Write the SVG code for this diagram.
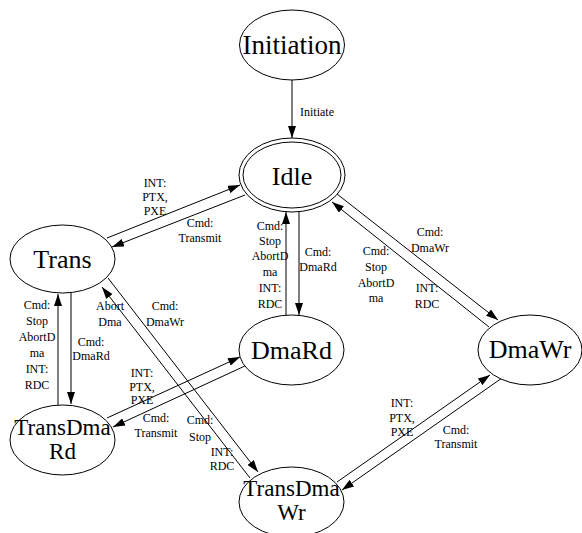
<svg xmlns="http://www.w3.org/2000/svg" width="582" height="533" viewBox="0 0 582 533">
<style>
.node ellipse{fill:#fff;stroke:#000;stroke-width:1}
.nl{font-family:"Liberation Serif",serif;font-size:26px;text-anchor:middle;fill:#000}
.sm{font-size:23px}
.el{font-family:"Liberation Serif",serif;font-size:12px;text-anchor:middle;fill:#000}
.edge{stroke:#000;stroke-width:1;fill:none;marker-end:url(#ah)}
</style>
<defs>
<marker id="ah" viewBox="0 0 12 8" refX="12" refY="4" markerWidth="12" markerHeight="8" markerUnits="userSpaceOnUse" orient="auto">
<path d="M0,0 L12,4 L0,8 z" fill="#000"/>
</marker>
</defs>
<rect width="582" height="533" fill="#fff"/>
<g id="connectors">
<path class="edge" d="M292,80 L292,138"/>
<path class="edge" d="M107,238 L240,185"/>
<path class="edge" d="M245,195 L112,247"/>
<path class="edge" d="M286,315 L286,212"/>
<path class="edge" d="M299,212 L299,315"/>
<path class="edge" d="M337,194 L498,320"/>
<path class="edge" d="M489,327 L332,202"/>
<path class="edge" d="M58,405 L58,294"/>
<path class="edge" d="M71,293 L71,404"/>
<path class="edge" d="M108,278 L258,472"/>
<path class="edge" d="M250,478 L102,287"/>
<path class="edge" d="M107,418 L240,357"/>
<path class="edge" d="M247,365 L113,427"/>
<path class="edge" d="M337,482 L490,375"/>
<path class="edge" d="M502,378 L342,490"/>
<text class="el" x="317" y="116">Initiate</text>
<text class="el"><tspan x="155" y="187">INT:</tspan><tspan x="155" y="201">PTX,</tspan><tspan x="155" y="215">PXE</tspan></text>
<text class="el"><tspan x="200" y="227">Cmd:</tspan><tspan x="200" y="242">Transmit</tspan></text>
<text class="el"><tspan x="270" y="230">Cmd:</tspan><tspan x="270" y="245">Stop</tspan><tspan x="270" y="260">AbortD</tspan><tspan x="270" y="276">ma</tspan><tspan x="270" y="292">INT:</tspan><tspan x="270" y="308">RDC</tspan></text>
<text class="el"><tspan x="318" y="256">Cmd:</tspan><tspan x="318" y="271">DmaRd</tspan></text>
<text class="el"><tspan x="430" y="236">Cmd:</tspan><tspan x="430" y="252">DmaWr</tspan></text>
<text class="el"><tspan x="376" y="255">Cmd:</tspan><tspan x="376" y="271">Stop</tspan><tspan x="376" y="287">AbortD</tspan><tspan x="376" y="302">ma</tspan></text>
<text class="el"><tspan x="427" y="292">INT:</tspan><tspan x="427" y="308">RDC</tspan></text>
<text class="el"><tspan x="37" y="309">Cmd:</tspan><tspan x="37" y="325">Stop</tspan><tspan x="37" y="341">AbortD</tspan><tspan x="37" y="357">ma</tspan><tspan x="37" y="373">INT:</tspan><tspan x="37" y="389">RDC</tspan></text>
<text class="el"><tspan x="91" y="346">Cmd:</tspan><tspan x="91" y="360">DmaRd</tspan></text>
<text class="el"><tspan x="110" y="310">Abort</tspan><tspan x="110" y="326">Dma</tspan></text>
<text class="el"><tspan x="165" y="310">Cmd:</tspan><tspan x="165" y="326">DmaWr</tspan></text>
<text class="el"><tspan x="200" y="424">Cmd:</tspan><tspan x="200" y="441">Stop</tspan></text>
<text class="el"><tspan x="222" y="456">INT:</tspan><tspan x="222" y="470">RDC</tspan></text>
<text class="el"><tspan x="142" y="377">INT:</tspan><tspan x="142" y="391">PTX,</tspan><tspan x="142" y="404">PXE</tspan></text>
<text class="el"><tspan x="156" y="422">Cmd:</tspan><tspan x="156" y="437">Transmit</tspan></text>
<text class="el"><tspan x="402" y="407">INT:</tspan><tspan x="402" y="422">PTX,</tspan><tspan x="402" y="436">PXE</tspan></text>
<text class="el"><tspan x="456" y="434">Cmd:</tspan><tspan x="456" y="448">Transmit</tspan></text>
</g>
<g id="Initiation" class="node"><ellipse cx="292" cy="45" rx="52.5" ry="35"/><text class="nl" x="292" y="54" style="font-size:27px">Initiation</text></g>
<g id="Idle" class="node"><ellipse cx="292" cy="175" rx="53" ry="37"/><ellipse cx="292" cy="175" rx="49" ry="33"/><text class="nl" x="292" y="185">Idle</text></g>
<g id="Trans" class="node"><ellipse cx="62.5" cy="259" rx="52.5" ry="34"/><text class="nl" x="62.5" y="268">Trans</text></g>
<g id="DmaRd" class="node"><ellipse cx="291.5" cy="350" rx="52.5" ry="35"/><text class="nl" x="291.5" y="359">DmaRd</text></g>
<g id="DmaWr" class="node"><ellipse cx="530" cy="350" rx="52" ry="35"/><text class="nl" x="530" y="358">DmaWr</text></g>
<g id="TransDmaRd" class="node"><ellipse cx="62.5" cy="440" rx="52.5" ry="35"/><text class="nl sm"><tspan x="62.5" y="435">TransDma</tspan><tspan x="62.5" y="459">Rd</tspan></text></g>
<g id="TransDmaWr" class="node"><ellipse cx="291.5" cy="502" rx="52.5" ry="35"/><text class="nl sm"><tspan x="291.5" y="496">TransDma</tspan><tspan x="291.5" y="520">Wr</tspan></text></g>
</svg>
